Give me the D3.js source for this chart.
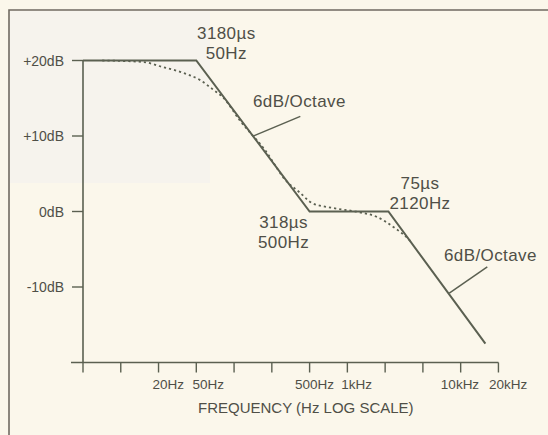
<!DOCTYPE html>
<html>
<head>
<meta charset="utf-8">
<script src="https://cdn.jsdelivr.net/npm/d3@7"></script>
<style>
  body { margin: 0; background: #fbf7eb; }
  svg { display: block; font-family: "Liberation Sans", Arial, sans-serif; }
</style>
</head>
<body>
<div id="chart"></div>
<script>
// asymptotic (straight line) response: [Hz, dB]
const asymptoteFreq = [5, 50, 500, 2480, 17800];
const asymptoteDb = [20, 20, 0, 0, -17.5];

const curveFreq = [7.4, 17, 25.6, 36, 54, 71, 85, 122, 203, 305, 414, 528, 809, 1345, 1979, 2740, 3640, 3870];
const curveDb = [20, 19.8, 19.1, 18.5, 17.4, 16.1, 15.2, 12, 8.1, 4.2, 2.45, 1.1, 0.46, -0.07, -0.73, -2.05, -3.5, -3.9];

const yTicks = [20, 10, 0, -10];
const yTickLabels = ["+20dB", "+10dB", "0dB", "-10dB"];

// 12 equally spaced ticks, third of a decade apart, starting at 5Hz
const xTickCount = 12;
const xLabelFreq = [20, 50, 500, 1000, 10000, 20000];
const xLabels = ["20Hz", "50Hz", "500Hz", "1kHz", "10kHz", "20kHz"];
// the labels are not set exactly under their frequency in the original
const xLabelNudge = [17, 12, 5, 13, 3, 17];

const width = 548, height = 435;
const ink = "#5b6051", textInk = "#4f4f47";

const x = d3.scaleLog().domain([5, 500]).range([83, 309.6]);
const y = d3.scaleLinear().domain([-20, 20]).range([362.5, 60.5]);

const svg = d3.select("#chart").append("svg")
  .attr("width", width)
  .attr("height", height);

// faint scan patch + frame
svg.append("rect")
  .attr("x", 10).attr("y", 11).attr("width", 200).attr("height", 172)
  .attr("fill", "#f6f3ed");

svg.append("path")
  .attr("d", "M9,435V10H548")
  .attr("fill", "none")
  .attr("stroke", "#706a62")
  .attr("stroke-width", 1.6);

// y axis
const yAxis = svg.append("g");
yAxis.append("line")
  .attr("x1", x(5)).attr("x2", x(5))
  .attr("y1", y(20)).attr("y2", y(-20))
  .attr("stroke", ink).attr("stroke-width", 1.6);

yAxis.selectAll(".yt")
  .data(yTicks)
  .join("line")
  .attr("x1", x(5) - 11).attr("x2", x(5))
  .attr("y1", d => y(d)).attr("y2", d => y(d))
  .attr("stroke", ink).attr("stroke-width", 1.4);

yAxis.selectAll("text")
  .data(yTicks)
  .join("text")
  .attr("x", x(5) - 19)
  .attr("y", d => y(d))
  .attr("dy", "0.36em")
  .attr("text-anchor", "end")
  .attr("font-size", 14)
  .attr("fill", textInk)
  .text((d, i) => yTickLabels[i]);

// x axis
const tickFreq = d3.range(xTickCount).map(i => 5 * Math.pow(10, i / 3));
const xAxis = svg.append("g");
xAxis.append("line")
  .attr("x1", x(5) - 12).attr("x2", x(tickFreq[xTickCount - 1]))
  .attr("y1", y(-20)).attr("y2", y(-20))
  .attr("stroke", ink).attr("stroke-width", 1.6);

xAxis.selectAll(".xt")
  .data(tickFreq)
  .join("line")
  .attr("x1", d => x(d)).attr("x2", d => x(d))
  .attr("y1", y(-20)).attr("y2", y(-20) + 10)
  .attr("stroke", ink).attr("stroke-width", 1.4);

xAxis.selectAll("text")
  .data(xLabelFreq)
  .join("text")
  .attr("x", (d, i) => x(d) + xLabelNudge[i])
  .attr("y", y(-20) + 26)
  .attr("text-anchor", "middle")
  .attr("font-size", 13.5)
  .attr("fill", textInk)
  .text((d, i) => xLabels[i]);

svg.append("text")
  .attr("x", 198)
  .attr("y", 413)
  .attr("font-size", 15)
  .attr("fill", textInk)
  .text("FREQUENCY (Hz LOG SCALE)");

// curves
const line = d3.line()
  .x(d => x(d[0]))
  .y(d => y(d[1]));

svg.append("path")
  .datum(d3.zip(curveFreq, curveDb))
  .attr("d", line.curve(d3.curveMonotoneX))
  .attr("fill", "none")
  .attr("stroke", ink)
  .attr("stroke-width", 1.8)
  .attr("stroke-dasharray", "2.2,3");

svg.append("path")
  .datum(d3.zip(asymptoteFreq, asymptoteDb))
  .attr("d", line.curve(d3.curveLinear))
  .attr("fill", "none")
  .attr("stroke", ink)
  .attr("stroke-width", 2);

// leader lines for the slope notes
const leaders = [
  [[160, 10], [414, 12.6]],
  [[8550, -10.8], [18500, -7.35]]
];
svg.selectAll(".leader")
  .data(leaders)
  .join("line")
  .attr("x1", d => x(d[0][0])).attr("y1", d => y(d[0][1]))
  .attr("x2", d => x(d[1][0])).attr("y2", d => y(d[1][1]))
  .attr("stroke", ink).attr("stroke-width", 1.5);

// annotations
function note(lines, px, py, anchor) {
  lines.forEach((s, i) => {
    svg.append("text")
      .attr("x", px)
      .attr("y", py + i * 20)
      .attr("text-anchor", anchor)
      .attr("font-size", 17)
      .attr("letter-spacing", 0.4)
      .attr("fill", textInk)
      .text(s);
  });
}

note(["3180µs", "50Hz"], x(50) + 30, y(20) - 22, "middle");
note(["6dB/Octave"], 253, 107, "start");
note(["318µs", "500Hz"], x(500) - 26, y(0) + 16, "middle");
note(["75µs", "2120Hz"], 420, 189, "middle");
note(["6dB/Octave"], 444, 261, "start");
</script>
</body>
</html>
